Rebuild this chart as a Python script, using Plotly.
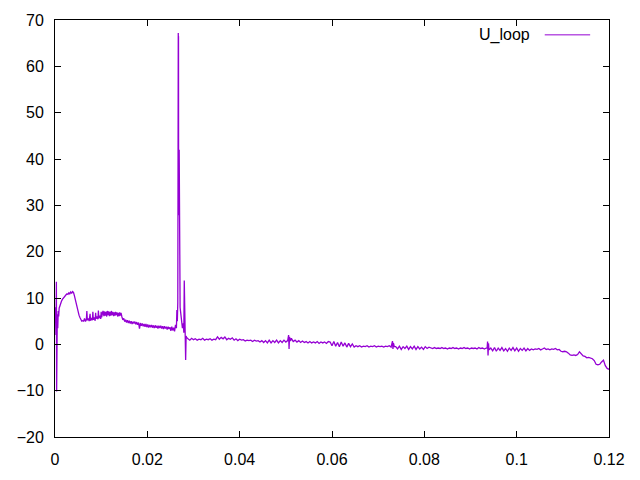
import plotly.graph_objects as go

# ---- data (time in s, U_loop in V) ----
time_start = [0.0000, 0.0001, 0.0002, 0.0003, 0.00035, 0.0004, 0.0005, 0.0006, 0.0007, 0.0008,
              0.0009, 0.0010, 0.0012, 0.0014, 0.0016, 0.0018, 0.0020, 0.0022, 0.0024, 0.0026,
              0.0028, 0.0030, 0.0032, 0.0034, 0.0036, 0.0038, 0.0040, 0.0042, 0.0044, 0.0046,
              0.0048, 0.0050, 0.0052, 0.0054, 0.0056, 0.0058, 0.0060]
uloop_start = [8.0, 7.0, 2.0, 13.5, -10.2, 4.0, 6.5, 3.5, 7.2, 6.0,
               7.8, 8.2, 8.8, 9.3, 9.7, 10.0, 10.2, 10.5, 10.7, 10.9,
               10.8, 11.1, 10.9, 11.3, 11.0, 11.4, 11.2, 10.5, 9.5, 8.6,
               7.8, 7.0, 6.3, 5.8, 5.3, 5.0, 5.1]

time_early = [0.0062, 0.0064, 0.0066, 0.0068, 0.0069, 0.0070, 0.0072, 0.0074, 0.0076, 0.0077,
              0.0079, 0.0081, 0.0082, 0.0083, 0.0085, 0.0087, 0.0088, 0.0089, 0.0091, 0.0093,
              0.0094, 0.0095, 0.0097, 0.0099, 0.0100, 0.0101, 0.0103, 0.0104, 0.0106, 0.0107,
              0.0109, 0.0110, 0.0112, 0.0113, 0.0115, 0.0116, 0.0118, 0.0119, 0.0121, 0.0122,
              0.0124, 0.0125, 0.0127, 0.0128, 0.0130, 0.0131, 0.0133, 0.0134, 0.0136, 0.0137,
              0.0139, 0.0140, 0.0142, 0.0143, 0.0145, 0.0147, 0.0149, 0.0151, 0.0153, 0.0155,
              0.0157, 0.0159, 0.0161, 0.0163, 0.0165, 0.0167, 0.0169, 0.0171, 0.0173, 0.0175,
              0.0177, 0.0179, 0.0181, 0.0183, 0.0185, 0.0187, 0.0189, 0.0191, 0.0193, 0.0195,
              0.0197, 0.0199, 0.0201, 0.0203, 0.0205, 0.0207, 0.0209, 0.0211, 0.0213, 0.0215,
              0.0217, 0.0219, 0.0221, 0.0223, 0.0225, 0.0227, 0.0229, 0.0231, 0.0233, 0.0235,
              0.0237, 0.0239, 0.0241, 0.0243, 0.0245, 0.0247, 0.0249, 0.0251, 0.0253, 0.0255,
              0.0257, 0.0259, 0.0261, 0.0263, 0.0264, 0.0265]
uloop_early = [5.0, 5.6, 4.9, 5.4, 7.2, 5.2, 5.6, 5.0, 6.6, 5.1,
               5.7, 5.2, 7.0, 5.3, 5.8, 5.1, 6.8, 5.5, 6.0, 5.4,
               7.3, 5.6, 6.2, 5.5, 7.0, 5.8, 6.6, 7.2, 6.1, 7.1,
               6.2, 7.0, 6.0, 7.2, 6.3, 7.1, 6.1, 7.0, 6.2, 7.2,
               6.3, 7.0, 6.1, 6.9, 6.2, 7.0, 6.3, 6.9, 6.0, 6.8,
               6.1, 6.9, 6.2, 6.8, 5.9, 5.3, 5.6, 4.9, 5.3, 4.7,
               5.2, 4.6, 5.1, 4.5, 5.0, 4.4, 4.9, 4.5, 4.9, 4.3,
               4.8, 4.2, 4.7, 3.4, 4.6, 4.0, 4.5, 3.9, 4.4, 3.8,
               4.4, 3.7, 4.3, 3.6, 4.2, 3.7, 4.2, 3.6, 4.1, 3.5,
               4.1, 3.6, 4.0, 3.4, 4.0, 3.5, 4.0, 3.4, 3.9, 3.3,
               3.9, 3.4, 3.8, 3.2, 3.8, 3.3, 3.7, 2.9, 3.8, 3.0,
               3.6, 2.8, 4.2, 3.5, 7.4, 5.0]

time_spike = [0.0266, 0.02665, 0.0267, 0.02672, 0.02675, 0.02678, 0.0268, 0.02683, 0.02686, 0.0269,
              0.02693, 0.02697, 0.0270, 0.02705, 0.0271, 0.02715, 0.0272, 0.0274, 0.0276, 0.0278,
              0.0279, 0.0280, 0.02805, 0.0281, 0.0282, 0.0283, 0.0284, 0.0285]
uloop_spike = [9.0, 20.0, 67.2, 30.0, 66.5, 28.0, 65.0, 42.5, 28.0, 42.0,
               28.0, 30.0, 22.0, 22.0, 8.0, 7.5, 7.0, 5.5, 3.5, 4.5,
               2.5, 13.8, 4.0, 9.0, 2.0, -3.4, 1.8, 1.5]

time_mid = [0.0288, 0.0292, 0.0296, 0.0300, 0.0304, 0.0308, 0.0312, 0.0316, 0.0320, 0.0324,
            0.0328, 0.0332, 0.0336, 0.0340, 0.0344, 0.0348, 0.0352, 0.0356, 0.0360, 0.0364,
            0.0368, 0.0372, 0.0376, 0.0380, 0.0384, 0.0388, 0.0392, 0.0396, 0.0400, 0.0404,
            0.0408, 0.0412, 0.0416, 0.0420, 0.0424, 0.0428, 0.0432, 0.0436, 0.0440, 0.0444,
            0.0448, 0.0452, 0.0456, 0.0460, 0.0464, 0.0468, 0.0472, 0.0476, 0.0480, 0.0484,
            0.0488, 0.0492, 0.0496, 0.0500, 0.0504,
            0.0506, 0.0507, 0.0508, 0.0510, 0.0512]
uloop_mid = [1.2, 0.9, 1.3, 1.0, 1.2, 0.9, 1.1, 1.0, 1.3, 0.9,
             1.1, 1.0, 1.2, 0.9, 1.1, 1.0, 1.6, 1.1, 1.5, 1.2,
             1.6, 1.0, 1.3, 1.1, 1.4, 0.9, 1.2, 0.8, 1.1, 0.9,
             1.0, 0.7, 0.9, 0.8, 0.9, 0.6, 0.9, 0.7, 0.8, 0.5,
             0.8, 0.4, 0.8, 0.3, 0.9, 0.3, 0.8, 0.4, 0.9, 0.3,
             0.8, 0.4, 0.9, 0.5, 0.8,
             2.0, -1.0, 1.6, 0.7, 1.3]

time_late = [0.0516, 0.0520, 0.0524, 0.0528, 0.0532, 0.0536, 0.0540, 0.0544, 0.0548, 0.0552,
             0.0556, 0.0560, 0.0564, 0.0568, 0.0572, 0.0576, 0.0580, 0.0584, 0.0588, 0.0592,
             0.0596, 0.0600, 0.0604, 0.0608, 0.0612, 0.0616, 0.0620, 0.0624, 0.0628, 0.0632,
             0.0636, 0.0640, 0.0644, 0.0648, 0.0652, 0.0656, 0.0660, 0.0664, 0.0668, 0.0672,
             0.0676, 0.0680, 0.0684, 0.0688, 0.0692, 0.0696, 0.0700, 0.0704, 0.0708, 0.0712,
             0.0716, 0.0720, 0.0724, 0.0728,
             0.0731, 0.0732, 0.0733, 0.0735]
uloop_late = [0.6, 0.9, 0.5, 0.8, 0.4, 0.7, 0.4, 0.6, 0.3, 0.6,
              0.3, 0.5, 0.3, 0.6, 0.2, 0.5, 0.3, 0.5, 0.2, 0.6,
              0.5, -0.3, 0.6, -0.4, 0.4, -0.5, 0.5, -0.4, 0.3, -0.6,
              0.2, -0.5, 0.1, -0.6, -0.3, -0.5, -0.3, -0.6, -0.4, -0.5,
              -0.3, -0.6, -0.4, -0.5, -0.3, -0.6, -0.4, -0.5, -0.4, -0.6,
              -0.4, -0.5, -0.3, -0.6,
              0.7, -1.0, 0.3, -0.5]

time_decay = [0.0738, 0.0742, 0.0746, 0.0750, 0.0754, 0.0758, 0.0762, 0.0766, 0.0770, 0.0774,
              0.0778, 0.0782, 0.0786, 0.0790, 0.0794, 0.0798, 0.0802, 0.0806, 0.0810, 0.0814,
              0.0818, 0.0822, 0.0826, 0.0830, 0.0834, 0.0838, 0.0842, 0.0846, 0.0850, 0.0854,
              0.0858, 0.0862, 0.0866, 0.0870, 0.0874, 0.0878, 0.0882, 0.0886, 0.0890, 0.0894,
              0.0898, 0.0902, 0.0906, 0.0910, 0.0914, 0.0918, 0.0922, 0.0926, 0.0930, 0.0934,
              0.0936, 0.0937, 0.0938, 0.0939, 0.0940]
uloop_decay = [-0.5, -1.0, -0.4, -1.1, -0.5, -0.9, -0.4, -1.1, -0.5, -1.0,
               -0.4, -1.1, -0.5, -1.0, -0.6, -1.1, -0.5, -0.9, -0.6, -0.8,
               -0.9, -0.7, -0.9, -0.8, -0.9, -0.7, -0.9, -0.8, -1.0, -0.8,
               -0.9, -0.7, -0.9, -0.8, -1.0, -0.8, -0.9, -0.7, -0.9, -0.8,
               -1.0, -0.8, -0.9, -0.8, -1.0, -0.7, -0.9, -0.8, -1.0, -0.8,
               -0.8, 0.6, -2.4, 0.2, -1.2]

time_end = [0.0944, 0.0948, 0.0952, 0.0956, 0.0960, 0.0964, 0.0968, 0.0972, 0.0976, 0.0980,
            0.0984, 0.0988, 0.0992, 0.0996, 0.1000, 0.1004, 0.1008, 0.1012, 0.1016, 0.1020,
            0.1024, 0.1028, 0.1032, 0.1036, 0.1040, 0.1044, 0.1048, 0.1052, 0.1056, 0.1060,
            0.1064, 0.1068, 0.1072, 0.1076, 0.1080, 0.1084, 0.1088, 0.1092, 0.1096, 0.1100,
            0.1104, 0.1108, 0.1112, 0.1116, 0.1120, 0.1124, 0.1128, 0.1132, 0.1136, 0.1140,
            0.1144, 0.1148, 0.1152, 0.1156, 0.1160, 0.1164, 0.1168, 0.1172, 0.1176, 0.1180,
            0.1184, 0.1188, 0.1192, 0.1196, 0.1200]
uloop_end = [-0.8, -1.4, -0.7, -1.5, -0.8, -1.3, -0.7, -1.4, -0.9, -1.5,
             -0.8, -1.3, -0.7, -1.4, -0.8, -1.5, -0.9, -1.3, -0.8, -1.4,
             -0.9, -1.3, -1.0, -1.2, -1.0, -1.1, -0.9, -1.2, -1.0, -0.8,
             -1.1, -1.0, -1.2, -1.0, -1.1, -0.9, -1.2, -1.1, -1.5, -1.6,
             -1.5, -1.6, -1.9, -2.3, -2.4, -2.3, -2.4, -2.2, -1.6, -2.0,
             -2.5, -2.6, -2.9, -2.8, -3.0, -3.1, -3.5, -4.3, -4.4, -4.3,
             -3.8, -3.4, -4.6, -5.2, -5.4]

x_tick_values = [0, 0.02, 0.04, 0.06, 0.08, 0.10, 0.12]
x_tick_labels = ["0", "0.02", "0.04", "0.06", "0.08", "0.1", "0.12"]
y_tick_values = [-20, -10, 0, 10, 20, 30, 40, 50, 60, 70]
series_name = "U_loop"

time = time_start + time_early + time_spike + time_mid + time_late + time_decay + time_end
uloop = uloop_start + uloop_early + uloop_spike + uloop_mid + uloop_late + uloop_decay + uloop_end

LINE_COLOR = "#9400D3"
FONT = dict(family="Liberation Sans, Arial, sans-serif", size=16, color="black")

fig = go.Figure()
fig.add_trace(go.Scatter(x=time, y=uloop, mode="lines", name=series_name,
                         line=dict(color=LINE_COLOR, width=1.3), showlegend=False))

axis_common = dict(showline=True, linecolor="black", linewidth=1, mirror="ticks",
                   ticks="inside", ticklen=6, tickcolor="black", tickwidth=1,
                   showgrid=False, zeroline=False, tickfont=FONT)

fig.update_layout(
    width=640, height=480,
    margin=dict(l=55, r=31, t=18, b=41, pad=0),
    plot_bgcolor="white", paper_bgcolor="white",
    font=FONT,
    xaxis=dict(range=[0, 0.12], tickvals=x_tick_values, ticktext=x_tick_labels,
               ticklabelstandoff=8, **axis_common),
    yaxis=dict(range=[-20, 70], tickvals=y_tick_values, ticklabelstandoff=7, **axis_common),
)

# gnuplot-style key: text then line sample, top right
fig.add_annotation(text=series_name, xref="paper", yref="paper", x=0.861, y=0.9644,
                   xanchor="right", yanchor="middle", showarrow=False, font=FONT)
fig.add_shape(type="line", xref="paper", yref="paper", x0=0.884, x1=0.966, y0=0.9644, y1=0.9644,
              line=dict(color=LINE_COLOR, width=1))

fig.write_html("out.html", config={"displayModeBar": False},
               post_script="document.body.style.margin='0';")
